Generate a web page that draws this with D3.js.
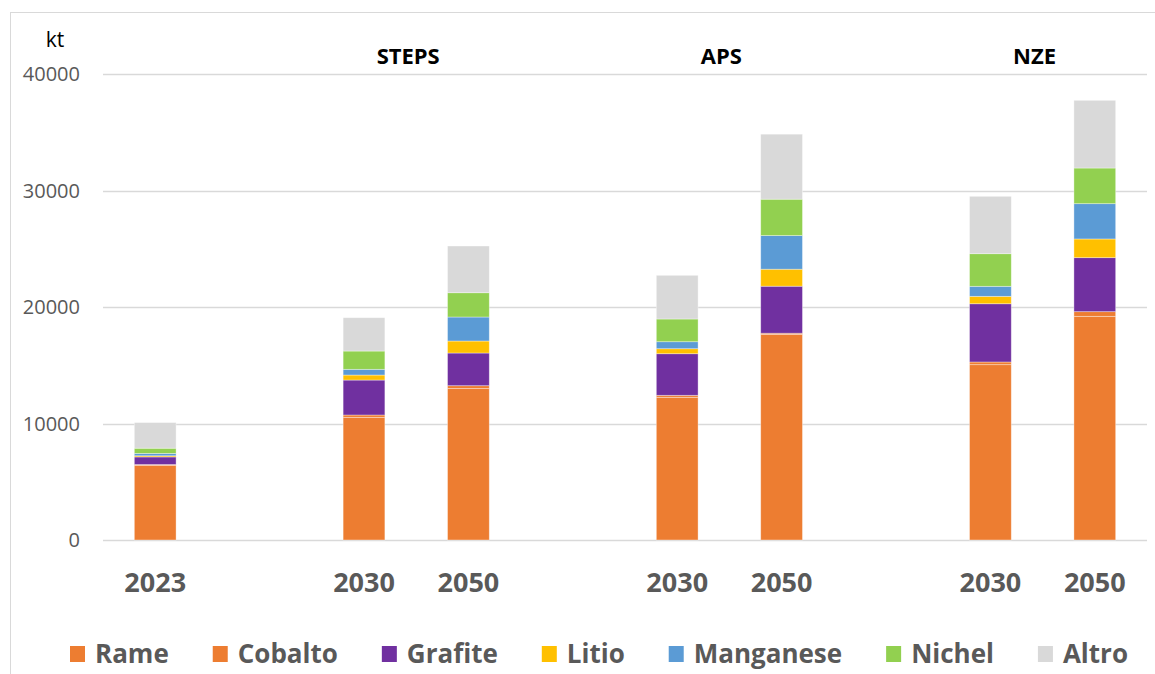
<!DOCTYPE html>
<html>
<head>
<meta charset="utf-8">
<script src="https://cdn.jsdelivr.net/npm/d3@7"></script>
<style>
  html, body { margin: 0; padding: 0; background: #fff; }
  svg { display: block; font-family: "Open Sans", "Noto Sans", sans-serif; }
</style>
</head>
<body>
<svg id="chart" width="1155" height="674"></svg>
<script>
// ---- data ----
const categories = ["2023", "STEPS 2030", "STEPS 2050", "APS 2030", "APS 2050", "NZE 2030", "NZE 2050"];
const tickLabels = ["2023", "2030", "2050", "2030", "2050", "2030", "2050"];
const scenarios = ["STEPS", "APS", "NZE"];
const seriesNames = ["Rame", "Cobalto", "Grafite", "Litio", "Manganese", "Nichel", "Altro"];
const rame      = [6400, 10530, 13000, 12250, 17650, 15050, 19200];
const cobalto   = [80, 200, 245, 170, 100, 230, 400];
const grafite   = [650, 3000, 2805, 3570, 4035, 5000, 4635];
const litio     = [100, 430, 1030, 430, 1460, 635, 1605];
const manganese = [200, 490, 2060, 600, 2885, 860, 3030];
const nichel    = [450, 1570, 2085, 1950, 3125, 2800, 3060];
const altro     = [2200, 2860, 4010, 3750, 5580, 4925, 5810];
const yTicks = [0, 10000, 20000, 30000, 40000];
const colors = ["#ED7D31", "#ED7D31", "#7030A0", "#FFC000", "#5B9BD5", "#92D050", "#D9D9D9"];

const seriesValues = [rame, cobalto, grafite, litio, manganese, nichel, altro];
const table = categories.map((c, i) => {
  const row = { cat: c };
  seriesNames.forEach((s, j) => row[s] = seriesValues[j][i]);
  return row;
});

// slots include empty gaps before each scenario group
const slots = ["2023"];
scenarios.forEach(s => { slots.push("gap-" + s, s + " 2030", s + " 2050"); });

const svg = d3.select("#chart");
const W = 1155, H = 674;
const plot = { left: 103, right: 1147, top: 74, bottom: 540 };

// outer border
svg.append("rect")
  .attr("x", 10.5).attr("y", 12.5)
  .attr("width", W + 10).attr("height", H + 10)
  .attr("fill", "none").attr("stroke", "#d9d9d9").attr("stroke-width", 1);

const x = d3.scaleBand().domain(slots).range([plot.left, plot.right])
  .paddingInner(0.6).paddingOuter(0.3);
const y = d3.scaleLinear().domain([0, 40000]).range([plot.bottom, plot.top]);

// gridlines
svg.append("g").selectAll("line").data(yTicks).join("line")
  .attr("x1", plot.left).attr("x2", plot.right)
  .attr("y1", d => Math.round(y(d)) + 0.5).attr("y2", d => Math.round(y(d)) + 0.5)
  .attr("stroke", "#d9d9d9").attr("stroke-width", 1.3);

// y axis labels
const yAxis = d3.axisLeft(y).tickValues(yTicks).tickFormat(d3.format("d")).tickSize(0).tickPadding(0);
const yg = svg.append("g").attr("transform", `translate(80,0)`).call(yAxis);
yg.select(".domain").remove();
yg.selectAll("text")
  .attr("font-size", 20).attr("fill", "#595959")
  .attr("font-family", "'Open Sans', sans-serif").attr("dy", "0.33em");

svg.append("text").attr("x", 55).attr("y", 47).attr("text-anchor", "middle")
  .attr("font-size", 21).attr("fill", "#000").text("kt");

// stacked bars
const stack = d3.stack().keys(seriesNames)(table);
svg.append("g").selectAll("g").data(stack).join("g")
  .attr("fill", (d, i) => colors[i])
  .selectAll("rect").data(d => d).join("rect")
  .attr("x", d => x(d.data.cat))
  .attr("width", x.bandwidth())
  .attr("y", d => y(d[1]))
  .attr("height", d => y(d[0]) - y(d[1]))
  .attr("stroke", "rgba(255,255,255,0.45)").attr("stroke-width", 0.8);

// x axis labels
const xAxis = d3.axisBottom(x).tickValues(categories)
  .tickFormat(d => tickLabels[categories.indexOf(d)]).tickSize(0).tickPadding(0);
const xg = svg.append("g").attr("transform", `translate(0,592)`).call(xAxis);
xg.select(".domain").remove();
xg.selectAll("text")
  .attr("font-size", 27).attr("font-weight", "bold").attr("fill", "#595959")
  .attr("font-family", "'Open Sans', sans-serif").attr("dy", 0);

// scenario labels
svg.append("g").selectAll("text").data(scenarios).join("text")
  .attr("x", s => (x(s + " 2030") + x(s + " 2050") + x.bandwidth()) / 2 - 8)
  .attr("y", 64)
  .attr("text-anchor", "middle")
  .attr("font-size", 22).attr("font-weight", "bold").attr("fill", "#000")
  .text(s => s);

// legend
const lg = svg.append("g");
const items = lg.selectAll("g").data(seriesNames).join("g");
items.append("rect").attr("width", 15).attr("height", 16).attr("y", 646)
  .attr("fill", (d, i) => colors[i]);
items.append("text").attr("x", 25).attr("y", 663)
  .attr("font-size", 26).attr("font-weight", "bold").attr("fill", "#595959")
  .text(d => d);
const widths = [];
items.each(function() { widths.push(25 + d3.select(this).select("text").node().getComputedTextLength()); });
const legStart = 70, legEnd = 1128;
const gap = (legEnd - legStart - d3.sum(widths)) / (widths.length - 1);
let cx = legStart;
items.attr("transform", (d, i) => { const t = `translate(${cx},0)`; cx += widths[i] + gap; return t; });
</script>
</body>
</html>
